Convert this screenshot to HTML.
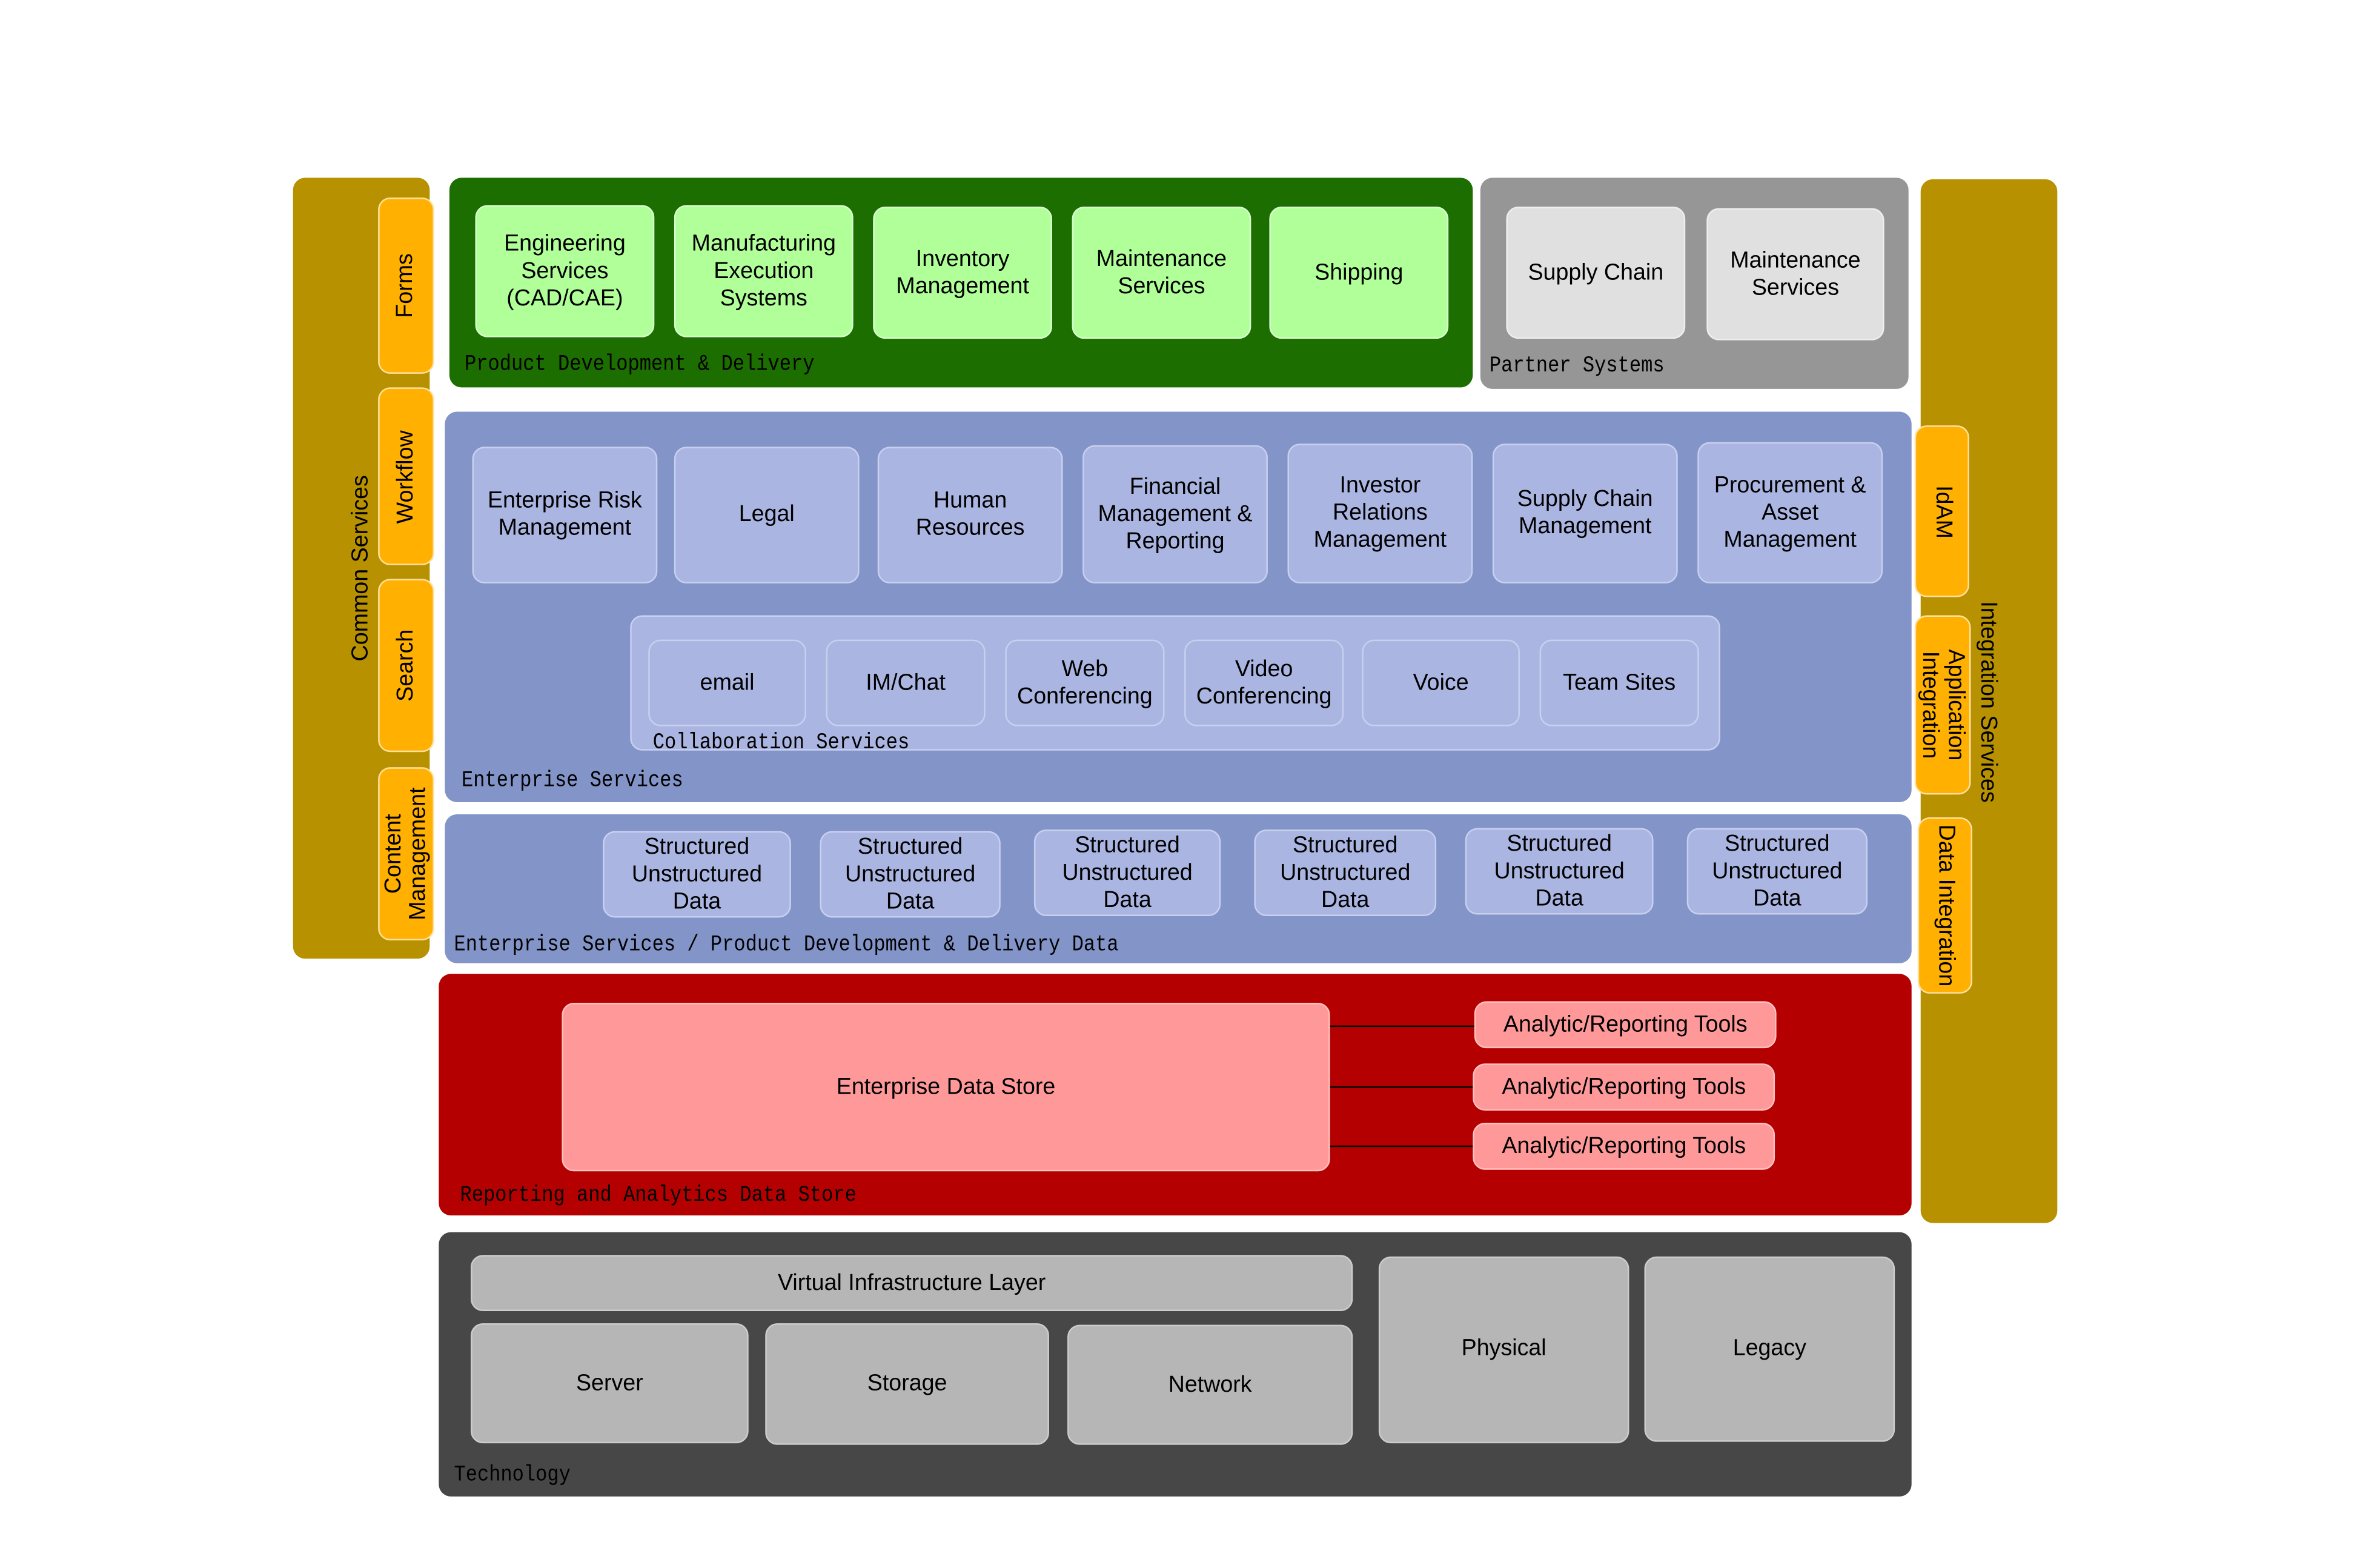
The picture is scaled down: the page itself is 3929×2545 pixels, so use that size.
<!DOCTYPE html>
<html><head><meta charset="utf-8"><style>
html,body{margin:0;padding:0;background:#fff;width:3929px;height:2543px;overflow:hidden}
#w{position:absolute;left:0;top:0;width:1568px;height:1015px;transform-origin:0 0;transform:scale(2.5065,2.5075)}
.b{position:absolute;box-sizing:border-box;border-radius:8px;display:flex;align-items:center;justify-content:center;text-align:center;font-family:"Liberation Sans",sans-serif;font-size:15px;line-height:18px;color:#000}
.g{background:#b0ff98;border:1px solid #d8ffd0}
.p{background:#e0e0e0;border:1px solid #eee}
.e{background:#aab5e1;border:1px solid #c8d0f0}
.r{background:#ff9999;border:1px solid #ffc0c0}
.t{background:#b6b6b6;border:1px solid #ccc}
.o{background:#ffb000;border:1px solid #ffe0a0}
.lab{position:absolute;font-family:"Liberation Mono",monospace;font-size:12.8px;color:#000;white-space:nowrap;transform:scaleY(1.15);transform-origin:0 50%}
.vl{transform:rotate(-90deg);white-space:nowrap}
.vr{transform:rotate(90deg);white-space:nowrap}
.ln{position:absolute;height:1px;background:#000}
</style></head><body><div id="w">
<div class="b" style="left:193px;top:117px;width:90px;height:514px;background:#b79100;border-radius:8px"></div>
<div class="b vl" style="left:138px;top:364px;width:200px;height:20px;">Common Services</div>
<div class="b o" style="left:249px;top:130px;width:37px;height:116px"><span class="vl">Forms</span></div>
<div class="b o" style="left:249px;top:255px;width:37px;height:117px"><span class="vl">Workflow</span></div>
<div class="b o" style="left:249px;top:381px;width:37px;height:114px"><span class="vl">Search</span></div>
<div class="b o" style="left:249px;top:505px;width:37px;height:114px"><span class="vl" style="line-height:16px">Content<br>Management</span></div>
<div class="b" style="left:1265px;top:118px;width:90px;height:687px;background:#b79100"></div>
<div class="b vr" style="left:1209px;top:452px;width:200px;height:20px;">Integration Services</div>
<div class="b o" style="left:1261px;top:280px;width:36px;height:113px"><span class="vr">IdAM</span></div>
<div class="b o" style="left:1261px;top:405px;width:37px;height:118px"><span class="vr" style="line-height:17px">Application<br>Integration</span></div>
<div class="b o" style="left:1263px;top:538px;width:36px;height:116px"><span class="vr">Data Integration</span></div>
<div class="b" style="left:296px;top:117px;width:674px;height:138px;background:#1c6e00"></div>
<div class="b g" style="left:313px;top:135px;width:118px;height:87px">Engineering<br>Services<br>(CAD/CAE)</div>
<div class="b g" style="left:444px;top:135px;width:118px;height:87px">Manufacturing<br>Execution<br>Systems</div>
<div class="b g" style="left:575px;top:136px;width:118px;height:87px">Inventory<br>Management</div>
<div class="b g" style="left:706px;top:136px;width:118px;height:87px">Maintenance<br>Services</div>
<div class="b g" style="left:836px;top:136px;width:118px;height:87px">Shipping</div>
<div class="lab" style="left:306px;top:232px">Product Development &amp; Delivery</div>
<div class="b" style="left:975px;top:117px;width:282px;height:139px;background:#969696"></div>
<div class="b p" style="left:992px;top:136px;width:118px;height:87px">Supply Chain</div>
<div class="b p" style="left:1124px;top:137px;width:117px;height:87px">Maintenance<br>Services</div>
<div class="lab" style="left:981px;top:233px">Partner Systems</div>
<div class="b" style="left:293px;top:271px;width:966px;height:257px;background:#8394c8"></div>
<div class="b e" style="left:311px;top:294px;width:122px;height:90px">Enterprise Risk<br>Management</div>
<div class="b e" style="left:444px;top:294px;width:122px;height:90px">Legal</div>
<div class="b e" style="left:578px;top:294px;width:122px;height:90px">Human<br>Resources</div>
<div class="b e" style="left:713px;top:293px;width:122px;height:91px">Financial<br>Management &amp;<br>Reporting</div>
<div class="b e" style="left:848px;top:292px;width:122px;height:92px">Investor<br>Relations<br>Management</div>
<div class="b e" style="left:983px;top:292px;width:122px;height:92px">Supply Chain<br>Management</div>
<div class="b e" style="left:1118px;top:291px;width:122px;height:93px">Procurement &amp;<br>Asset<br>Management</div>
<div class="b e" style="left:415px;top:405px;width:718px;height:89px"></div>
<div class="b e" style="left:427px;top:421px;width:104px;height:57px">email</div>
<div class="b e" style="left:544px;top:421px;width:105px;height:57px">IM/Chat</div>
<div class="b e" style="left:662px;top:421px;width:105px;height:57px">Web<br>Conferencing</div>
<div class="b e" style="left:780px;top:421px;width:105px;height:57px">Video<br>Conferencing</div>
<div class="b e" style="left:897px;top:421px;width:104px;height:57px">Voice</div>
<div class="b e" style="left:1014px;top:421px;width:105px;height:57px">Team Sites</div>
<div class="lab" style="left:430px;top:481px">Collaboration Services</div>
<div class="lab" style="left:304px;top:506px">Enterprise Services</div>
<div class="b" style="left:293px;top:536px;width:966px;height:98px;background:#8394c8"></div>
<div class="b e" style="left:397px;top:547px;width:124px;height:57px">Structured<br>Unstructured<br>Data</div>
<div class="b e" style="left:540px;top:547px;width:119px;height:57px">Structured<br>Unstructured<br>Data</div>
<div class="b e" style="left:681px;top:546px;width:123px;height:57px">Structured<br>Unstructured<br>Data</div>
<div class="b e" style="left:826px;top:546px;width:120px;height:57px">Structured<br>Unstructured<br>Data</div>
<div class="b e" style="left:965px;top:545px;width:124px;height:57px">Structured<br>Unstructured<br>Data</div>
<div class="b e" style="left:1111px;top:545px;width:119px;height:57px">Structured<br>Unstructured<br>Data</div>
<div class="lab" style="left:299px;top:614px">Enterprise Services / Product Development &amp; Delivery Data</div>
<div class="b" style="left:289px;top:641px;width:970px;height:159px;background:#b40000"></div>
<div class="ln" style="left:876px;top:675px;width:95px"></div>
<div class="ln" style="left:876px;top:715px;width:95px"></div>
<div class="ln" style="left:876px;top:754px;width:95px"></div>
<div class="b r" style="left:370px;top:660px;width:506px;height:111px">Enterprise Data Store</div>
<div class="b r" style="left:971px;top:659px;width:199px;height:31px">Analytic/Reporting Tools</div>
<div class="b r" style="left:970px;top:700px;width:199px;height:31px">Analytic/Reporting Tools</div>
<div class="b r" style="left:970px;top:739px;width:199px;height:31px">Analytic/Reporting Tools</div>
<div class="lab" style="left:303px;top:779px">Reporting and Analytics Data Store</div>
<div class="b" style="left:289px;top:811px;width:970px;height:174px;background:#474747"></div>
<div class="b t" style="left:310px;top:826px;width:581px;height:37px">Virtual Infrastructure Layer</div>
<div class="b t" style="left:310px;top:871px;width:183px;height:79px">Server</div>
<div class="b t" style="left:504px;top:871px;width:187px;height:80px">Storage</div>
<div class="b t" style="left:703px;top:872px;width:188px;height:79px">Network</div>
<div class="b t" style="left:908px;top:827px;width:165px;height:123px;padding-bottom:2px">Physical</div>
<div class="b t" style="left:1083px;top:827px;width:165px;height:122px">Legacy</div>
<div class="lab" style="left:299px;top:963px">Technology</div>
</div></body></html>
